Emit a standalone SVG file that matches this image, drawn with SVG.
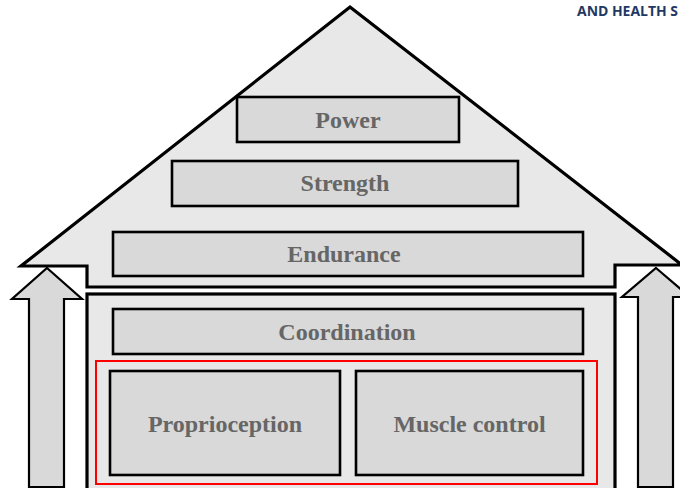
<svg xmlns="http://www.w3.org/2000/svg" width="680" height="488" viewBox="0 0 680 488">
<style>
.house{fill:#e8e8e8;stroke:#000;stroke-width:3.2;stroke-linejoin:miter}
.box{fill:#d9d9d9;stroke:#000;stroke-width:2.6}
.arrow{fill:#d9d9d9;stroke:#000;stroke-width:2.2;stroke-linejoin:miter}
.lbl{font-family:"Liberation Serif","Times New Roman",serif;font-weight:bold;font-size:24px;fill:#666;text-anchor:middle}
.hdr{font-family:"Open Sans","Liberation Sans",sans-serif;font-weight:bold;font-size:14px;fill:#1f3864}
</style>
<rect x="0" y="0" width="680" height="488" fill="#fff"/>
<text class="hdr" x="577" y="16" textLength="101" lengthAdjust="spacingAndGlyphs">AND HEALTH S</text>
<g id="roof">
<polygon class="house" points="350,7 682,265 615,265 615,287 87,287 87,266 21,266"/>
</g>
<g id="base">
<rect class="house" x="87" y="294" width="528" height="196"/>
</g>
<g id="arrow-left">
<polygon class="arrow" points="47,268 82,299 64,299 64,487 29,487 29,299 12,299"/>
</g>
<g id="arrow-right">
<polygon class="arrow" points="656,268 690,297 673,297 673,487 638,487 638,297 622,297"/>
</g>
<g id="power">
<rect class="box" x="237" y="97" width="222" height="45"/>
<text class="lbl" x="348" y="128">Power</text>
</g>
<g id="strength">
<rect class="box" x="172" y="161" width="346" height="45"/>
<text class="lbl" x="345" y="191">Strength</text>
</g>
<g id="endurance">
<rect class="box" x="113" y="232" width="470" height="44"/>
<text class="lbl" x="344" y="262">Endurance</text>
</g>
<g id="coordination">
<rect class="box" x="113" y="309" width="470" height="45"/>
<text class="lbl" x="347" y="340">Coordination</text>
</g>
<g id="foundation">
<rect x="96" y="361" width="501" height="123" fill="none" stroke="#f00" stroke-width="2"/>
</g>
<g id="proprioception">
<rect class="box" x="110" y="371" width="230" height="104"/>
<text class="lbl" x="225" y="432">Proprioception</text>
</g>
<g id="muscle-control">
<rect class="box" x="356" y="371" width="227" height="104"/>
<text class="lbl" x="469.5" y="432">Muscle control</text>
</g>
<g id="connectors"></g>
</svg>
